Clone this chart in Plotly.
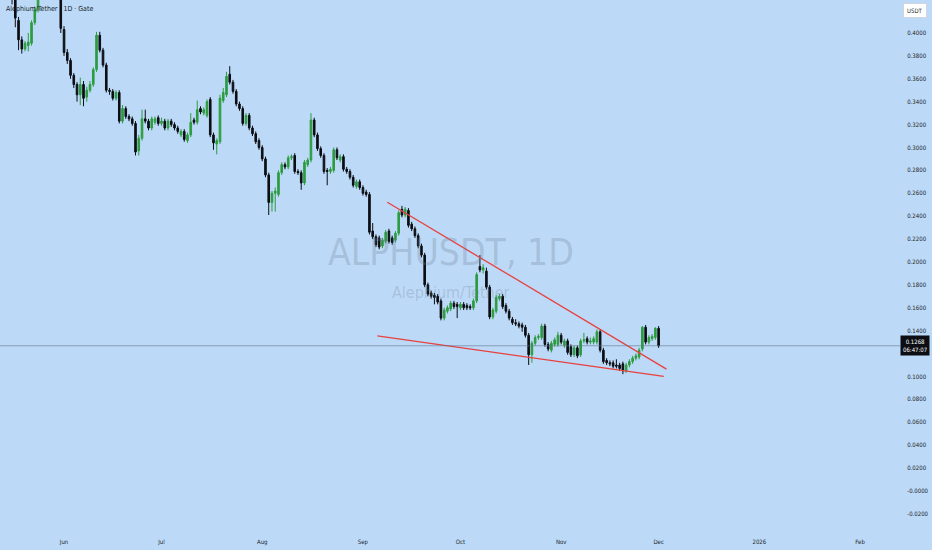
import pandas as pd
import plotly.graph_objects as go

# ---------------- data ----------------
start_date = "2025-05-15"

opens = [
    0.450, 0.452, 0.440, 0.411, 0.394, 0.386, 0.389, 0.391, 0.409, 0.420,
    0.432, 0.445, 0.452, 0.446, 0.455, 0.447, 0.440, 0.403, 0.383, 0.376,
    0.363, 0.355, 0.346, 0.355, 0.344, 0.350, 0.355, 0.368, 0.398, 0.385,
    0.372, 0.350, 0.349, 0.343, 0.348, 0.323, 0.334, 0.327, 0.325, 0.321,
    0.297, 0.308, 0.325, 0.323, 0.317, 0.322, 0.326, 0.321, 0.323, 0.317,
    0.323, 0.320, 0.317, 0.311, 0.314, 0.306, 0.311, 0.324, 0.322, 0.334,
    0.330, 0.328, 0.342, 0.311, 0.303, 0.305, 0.341, 0.346, 0.364, 0.357,
    0.349, 0.338, 0.334, 0.321, 0.328, 0.317, 0.312, 0.306, 0.300, 0.290,
    0.276, 0.252, 0.260, 0.259, 0.278, 0.285, 0.283, 0.291, 0.293, 0.279,
    0.278, 0.269, 0.285, 0.289, 0.324, 0.311, 0.299, 0.293, 0.280, 0.279,
    0.280, 0.298, 0.289, 0.292, 0.281, 0.279, 0.274, 0.266, 0.270, 0.265,
    0.261, 0.259, 0.227, 0.222, 0.221, 0.214, 0.218, 0.227, 0.221, 0.219,
    0.225, 0.246, 0.241, 0.245, 0.233, 0.229, 0.223, 0.214, 0.206, 0.180,
    0.173, 0.171, 0.170, 0.166, 0.151, 0.157, 0.159, 0.164, 0.163, 0.160,
    0.163, 0.162, 0.161, 0.160, 0.166, 0.196, 0.193, 0.192, 0.178, 0.152,
    0.157, 0.168, 0.170, 0.162, 0.157, 0.150, 0.147, 0.146, 0.145, 0.143,
    0.136, 0.119, 0.129, 0.134, 0.134, 0.144, 0.128, 0.123, 0.128, 0.128,
    0.136, 0.127, 0.131, 0.126, 0.119, 0.125, 0.119, 0.131, 0.133, 0.130,
    0.130, 0.130, 0.139, 0.123, 0.114, 0.112, 0.112, 0.110, 0.110, 0.111,
    0.105, 0.110, 0.113, 0.116, 0.117, 0.124, 0.143, 0.130, 0.133, 0.134,
    0.142,
]
highs = [
    0.460, 0.458, 0.444, 0.414, 0.397, 0.393, 0.400, 0.411, 0.423, 0.440,
    0.450, 0.458, 0.456, 0.460, 0.458, 0.450, 0.445, 0.406, 0.386, 0.378,
    0.365, 0.357, 0.361, 0.358, 0.353, 0.358, 0.370, 0.401, 0.401, 0.387,
    0.374, 0.352, 0.351, 0.350, 0.350, 0.337, 0.336, 0.329, 0.327, 0.323,
    0.311, 0.333, 0.333, 0.325, 0.327, 0.327, 0.328, 0.326, 0.325, 0.325,
    0.325, 0.322, 0.319, 0.316, 0.316, 0.313, 0.330, 0.326, 0.341, 0.336,
    0.335, 0.342, 0.344, 0.313, 0.308, 0.346, 0.352, 0.366, 0.371, 0.359,
    0.351, 0.340, 0.336, 0.330, 0.330, 0.319, 0.314, 0.308, 0.302, 0.292,
    0.278, 0.262, 0.265, 0.280, 0.287, 0.287, 0.293, 0.294, 0.295, 0.281,
    0.280, 0.289, 0.291, 0.330, 0.326, 0.313, 0.301, 0.295, 0.282, 0.283,
    0.300, 0.300, 0.294, 0.294, 0.283, 0.281, 0.276, 0.272, 0.272, 0.267,
    0.263, 0.261, 0.234, 0.224, 0.223, 0.221, 0.228, 0.229, 0.223, 0.227,
    0.245, 0.249, 0.248, 0.247, 0.235, 0.231, 0.225, 0.216, 0.208, 0.182,
    0.175, 0.173, 0.172, 0.168, 0.160, 0.162, 0.166, 0.166, 0.165, 0.165,
    0.165, 0.164, 0.163, 0.168, 0.191, 0.206, 0.198, 0.195, 0.180, 0.160,
    0.171, 0.172, 0.172, 0.164, 0.159, 0.152, 0.150, 0.148, 0.147, 0.145,
    0.138, 0.131, 0.136, 0.137, 0.146, 0.146, 0.130, 0.131, 0.134, 0.139,
    0.138, 0.133, 0.133, 0.128, 0.127, 0.127, 0.133, 0.138, 0.135, 0.134,
    0.135, 0.141, 0.141, 0.125, 0.116, 0.114, 0.114, 0.115, 0.112, 0.113,
    0.112, 0.115, 0.118, 0.120, 0.125, 0.144, 0.145, 0.136, 0.137, 0.143,
    0.144,
]
lows = [
    0.445, 0.425, 0.405, 0.385, 0.382, 0.384, 0.384, 0.389, 0.407, 0.418,
    0.430, 0.440, 0.441, 0.443, 0.440, 0.435, 0.400, 0.380, 0.373, 0.360,
    0.352, 0.340, 0.337, 0.336, 0.340, 0.348, 0.353, 0.366, 0.383, 0.370,
    0.348, 0.346, 0.341, 0.341, 0.321, 0.321, 0.325, 0.323, 0.319, 0.293,
    0.293, 0.306, 0.321, 0.315, 0.315, 0.320, 0.319, 0.319, 0.315, 0.315,
    0.318, 0.315, 0.312, 0.309, 0.305, 0.304, 0.309, 0.320, 0.320, 0.329,
    0.328, 0.326, 0.309, 0.298, 0.294, 0.303, 0.339, 0.344, 0.355, 0.347,
    0.336, 0.332, 0.319, 0.319, 0.315, 0.310, 0.303, 0.298, 0.288, 0.274,
    0.241, 0.244, 0.244, 0.257, 0.276, 0.281, 0.281, 0.289, 0.277, 0.276,
    0.263, 0.267, 0.283, 0.287, 0.309, 0.297, 0.291, 0.277, 0.267, 0.277,
    0.278, 0.289, 0.287, 0.279, 0.277, 0.272, 0.265, 0.264, 0.263, 0.258,
    0.257, 0.224, 0.220, 0.213, 0.211, 0.212, 0.216, 0.216, 0.215, 0.217,
    0.223, 0.239, 0.239, 0.230, 0.227, 0.221, 0.212, 0.204, 0.178, 0.170,
    0.168, 0.163, 0.163, 0.149, 0.149, 0.155, 0.157, 0.159, 0.151, 0.158,
    0.158, 0.158, 0.158, 0.158, 0.164, 0.191, 0.190, 0.176, 0.150, 0.150,
    0.155, 0.166, 0.159, 0.155, 0.149, 0.145, 0.144, 0.142, 0.139, 0.134,
    0.110, 0.112, 0.127, 0.132, 0.132, 0.126, 0.122, 0.121, 0.126, 0.126,
    0.128, 0.125, 0.119, 0.117, 0.117, 0.116, 0.117, 0.129, 0.128, 0.128,
    0.128, 0.128, 0.121, 0.111, 0.110, 0.109, 0.107, 0.107, 0.105, 0.102,
    0.103, 0.108, 0.111, 0.114, 0.115, 0.122, 0.128, 0.128, 0.131, 0.132,
    0.125,
]
closes = [
    0.455, 0.440, 0.413, 0.394, 0.386, 0.391, 0.392, 0.409, 0.420, 0.432,
    0.445, 0.452, 0.446, 0.455, 0.447, 0.440, 0.404, 0.383, 0.376, 0.363,
    0.355, 0.346, 0.355, 0.343, 0.350, 0.355, 0.368, 0.398, 0.385, 0.372,
    0.350, 0.349, 0.343, 0.348, 0.323, 0.334, 0.327, 0.325, 0.321, 0.296,
    0.308, 0.325, 0.323, 0.317, 0.325, 0.325, 0.321, 0.323, 0.317, 0.323,
    0.320, 0.317, 0.314, 0.314, 0.307, 0.311, 0.322, 0.322, 0.333, 0.331,
    0.333, 0.340, 0.311, 0.304, 0.306, 0.343, 0.348, 0.362, 0.357, 0.349,
    0.338, 0.334, 0.321, 0.328, 0.317, 0.312, 0.305, 0.300, 0.290, 0.276,
    0.252, 0.260, 0.262, 0.278, 0.285, 0.283, 0.291, 0.292, 0.279, 0.278,
    0.269, 0.287, 0.289, 0.324, 0.311, 0.299, 0.293, 0.279, 0.279, 0.281,
    0.298, 0.291, 0.292, 0.281, 0.279, 0.274, 0.267, 0.270, 0.265, 0.260,
    0.259, 0.226, 0.222, 0.215, 0.213, 0.219, 0.226, 0.218, 0.217, 0.225,
    0.243, 0.241, 0.246, 0.232, 0.229, 0.223, 0.214, 0.206, 0.180, 0.172,
    0.170, 0.169, 0.165, 0.151, 0.158, 0.160, 0.164, 0.161, 0.161, 0.163,
    0.160, 0.160, 0.160, 0.166, 0.189, 0.193, 0.195, 0.178, 0.152, 0.158,
    0.169, 0.170, 0.161, 0.157, 0.151, 0.147, 0.146, 0.144, 0.143, 0.136,
    0.119, 0.129, 0.134, 0.135, 0.144, 0.128, 0.124, 0.129, 0.132, 0.136,
    0.130, 0.131, 0.121, 0.119, 0.125, 0.118, 0.131, 0.132, 0.130, 0.131,
    0.133, 0.139, 0.123, 0.113, 0.112, 0.111, 0.109, 0.109, 0.107, 0.105,
    0.110, 0.113, 0.116, 0.118, 0.123, 0.143, 0.130, 0.134, 0.135, 0.142,
    0.1268,
]

# wedge trend lines (date, price) endpoints
upper_line_dates = ["2025-09-08 12:00", "2025-12-03 10:00"]
upper_line_prices = [0.2522, 0.1064]
lower_line_dates = ["2025-09-05 10:00", "2025-12-02 14:00"]
lower_line_prices = [0.1355, 0.1000]

last_price = 0.1268
last_price_label = "0.1268"
countdown_label = "06:47:07"

# (0.1200 is hidden behind the last-price label in the reference)
y_tick_values = [-0.02, 0.0, 0.02, 0.04, 0.06, 0.08, 0.10, 0.14, 0.16, 0.18,
                 0.20, 0.22, 0.24, 0.26, 0.28, 0.30, 0.32, 0.34, 0.36, 0.38, 0.40]
y_tick_labels = ["-0.0200", "-0.0000", "0.0200", "0.0400", "0.0600", "0.0800", "0.1000",
                 "0.1400", "0.1600", "0.1800", "0.2000", "0.2200", "0.2400",
                 "0.2600", "0.2800", "0.3000", "0.3200", "0.3400", "0.3600", "0.3800", "0.4000"]
x_tick_values = ["2025-06-01", "2025-07-01", "2025-08-01", "2025-09-01", "2025-10-01",
                 "2025-11-01", "2025-12-01", "2026-01-01", "2026-02-01"]
x_tick_labels = ["Jun", "Jul", "Aug", "Sep", "Oct", "Nov", "Dec", "2026", "Feb"]

title_text = "Alephium/Tether · 1D · Gate"
watermark_big = "ALPHUSDT, 1D"
watermark_small = "Alephium/Tether"
currency_text = "USDT"

dates = pd.date_range(start_date, periods=len(closes), freq="D")

# ---------------- style ----------------
BG = "#bcd9f7"
GREEN = "#2c9c3f"
BLACK = "#0c0e13"
RED = "#e8413f"
TXT = "#1b1f2a"
FONT = "Liberation Sans Narrow, DejaVu Sans Condensed, Liberation Sans, Arial, sans-serif"

fig = go.Figure()

fig.add_trace(go.Candlestick(
    x=dates, open=opens, high=highs, low=lows, close=closes,
    increasing=dict(line=dict(color=GREEN, width=1), fillcolor=GREEN),
    decreasing=dict(line=dict(color=BLACK, width=1), fillcolor=BLACK),
    whiskerwidth=0, showlegend=False, hoverinfo="skip",
))

fig.add_trace(go.Scatter(x=pd.to_datetime(upper_line_dates), y=upper_line_prices,
                         mode="lines", line=dict(color=RED, width=1.3),
                         showlegend=False, hoverinfo="skip"))
fig.add_trace(go.Scatter(x=pd.to_datetime(lower_line_dates), y=lower_line_prices,
                         mode="lines", line=dict(color=RED, width=1.3),
                         showlegend=False, hoverinfo="skip"))

# last price horizontal line
fig.add_hline(y=last_price, line=dict(color="rgba(95,115,140,0.75)", width=0.8))

annotations = [
    dict(text=title_text, xref="paper", yref="paper", x=0.004, y=0.983,
         xanchor="left", yanchor="middle", showarrow=False,
         font=dict(size=7, color=TXT, family=FONT)),
    dict(text=watermark_big, xref="paper", yref="paper", x=0.501, y=0.5245,
         xanchor="center", yanchor="middle", showarrow=False,
         font=dict(size=37, color="rgba(110,125,150,0.28)", family=FONT)),
    dict(text=watermark_small, xref="paper", yref="paper", x=0.501, y=0.449,
         xanchor="center", yanchor="middle", showarrow=False,
         font=dict(size=16, color="rgba(110,125,150,0.28)", family=FONT)),
    dict(text=currency_text, xref="paper", yref="paper", x=1.017, y=0.981,
         xanchor="center", yanchor="middle", showarrow=False,
         bgcolor="#ffffff", bordercolor="#d0d6e0", borderwidth=1, borderpad=3,
         font=dict(size=6, color=TXT, family=FONT)),
    dict(text=last_price_label + "<br>" + countdown_label, xref="paper", yref="y",
         x=1.017, y=last_price, xanchor="center", yanchor="middle", showarrow=False,
         bgcolor="#0c0e13", borderpad=2,
         font=dict(size=6, color="#ffffff", family=FONT)),
]

fig.update_layout(
    width=932, height=550,
    margin=dict(l=0, r=32, t=0, b=20),
    paper_bgcolor=BG, plot_bgcolor=BG,
    showlegend=False,
    annotations=annotations,
    xaxis=dict(
        type="date", range=["2025-05-12 07:00", "2026-02-13 07:00"],
        rangeslider=dict(visible=False),
        showgrid=False, zeroline=False, showline=False,
        tickvals=pd.to_datetime(x_tick_values), ticktext=x_tick_labels,
        ticks="outside", ticklen=6, tickcolor="rgba(0,0,0,0)",
        tickfont=dict(size=6, color=TXT, family=FONT),
        fixedrange=True,
    ),
    yaxis=dict(
        side="right", range=[-0.0341, 0.4288],
        showgrid=False, zeroline=False, showline=False,
        tickvals=y_tick_values, ticktext=y_tick_labels,
        ticks="outside", ticklen=5, tickcolor="rgba(0,0,0,0)",
        tickfont=dict(size=6, color=TXT, family=FONT),
        fixedrange=True,
    ),
)

fig.write_html(
    "out.html",
    config={"displayModeBar": False},
    post_script="document.body.style.margin='0';document.body.style.overflow='hidden';"
                "document.body.style.background='" + BG + "';",
)
